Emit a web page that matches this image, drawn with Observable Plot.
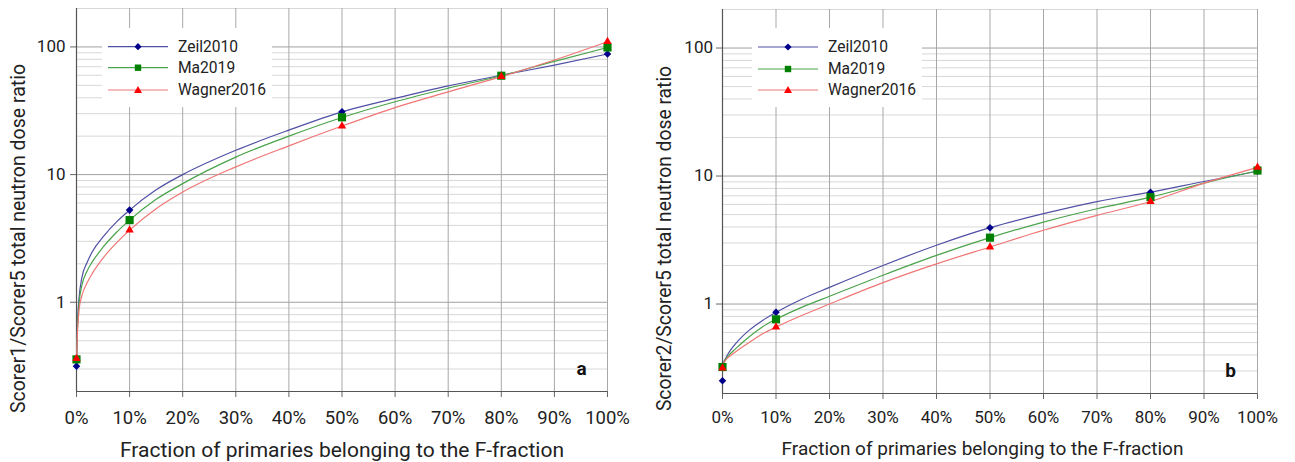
<!DOCTYPE html>
<html><head><meta charset="utf-8">
<script src="https://cdn.jsdelivr.net/npm/d3@7"></script>
<script src="https://cdn.jsdelivr.net/npm/@observablehq/plot@0.6"></script>
<style>
html,body{margin:0;padding:0;background:#fff;}
#wrap{position:relative;width:1295px;height:462px;overflow:hidden;font-family:Roboto,sans-serif;}
.panel{position:absolute;top:0;}
.legend{position:absolute;background:#fff;}
</style></head><body><div id="wrap"></div>
<script>
// ---- data ----
const seriesNames = ["Zeil2010", "Ma2019", "Wagner2016"];
const xTicks = [0, 10, 20, 30, 40, 50, 60, 70, 80, 90, 100];
const majorY = [1, 10, 100];
const minorY = [0.3, 0.4, 0.5, 0.6, 0.7, 0.8, 0.9, 2, 3, 4, 5, 6, 7, 8, 9, 20, 30, 40, 50, 60, 70, 80, 90, 200];

// simulated points (markers)
const markerX = [0, 10, 50, 80, 100];
const aZeil = [0.316, 5.27, 31.1, 60, 88];
const aMa = [0.357, 4.40, 28.1, 59.5, 99];
const aWagner = [0.362, 3.67, 24.0, 58.5, 110];
const bZeil = [0.252, 0.861, 3.95, 7.48, 10.9];
const bMa = [0.322, 0.76, 3.30, 6.84, 11.04];
const bWagner = [0.316, 0.66, 2.79, 6.32, 11.7];

// fitted curves
const fitX = [0, 0.2, 0.5, 1, 2, 3, 5, 7.5, 10, 15, 20, 30, 40, 50, 60, 70, 80, 90, 100];
const aFitZeil = [0.32, 0.7, 1.1, 1.55, 2.05, 2.5, 3.25, 4.24, 5.27, 7.6, 10.0, 15.5, 22.3, 31.0, 39.5, 49.5, 60, 72, 88];
const aFitMa = [0.36, 0.65, 1.0, 1.35, 1.76, 2.08, 2.7, 3.52, 4.4, 6.4, 8.5, 13.7, 20.0, 28.0, 37.2, 47.5, 59.5, 77, 99];
const aFitWagner = [0.36, 0.6, 0.88, 1.12, 1.42, 1.69, 2.22, 2.91, 3.67, 5.4, 7.3, 11.5, 16.8, 24.0, 33.5, 44.5, 58.5, 79, 110];
const bFitZeil = [0.32, 0.35, 0.37, 0.405, 0.465, 0.52, 0.625, 0.745, 0.86, 1.1, 1.35, 2.0, 2.88, 3.95, 5.08, 6.32, 7.48, 9.06, 10.9];
const bFitMa = [0.32, 0.345, 0.365, 0.39, 0.43, 0.47, 0.555, 0.665, 0.76, 0.95, 1.15, 1.68, 2.40, 3.30, 4.37, 5.55, 6.84, 8.8, 11.0];
const bFitWagner = [0.32, 0.345, 0.36, 0.38, 0.41, 0.44, 0.50, 0.585, 0.66, 0.82, 1.0, 1.47, 2.06, 2.79, 3.77, 4.93, 6.32, 8.8, 11.7];

const xTitle = "Fraction of primaries belonging to the F-fraction";
const yTitleA = "Scorer1/Scorer5 total neutron dose ratio";
const yTitleB = "Scorer2/Scorer5 total neutron dose ratio";

// ---- styles ----
const lineColors = ["#5050a5", "#4aa34a", "#f07676"];
const markColors = ["#00008b", "#008000", "#ff0000"];
const markSymbols = ["diamond2", "square", "triangle"];
const markR = [3.4, 4.6, 3.1];

function rows(xs, arrs) {
  const out = [];
  arrs.forEach((arr, s) => xs.forEach((x, i) => out.push({x, y: arr[i], s})));
  return out;
}

function panel(o) {
  const fitRows = rows(fitX, o.fits);
  const ptRows = rows(markerX, o.pts);
  const marks = [
    Plot.ruleY(minorY, {stroke: "#d8d8d8", strokeWidth: 1}),
    Plot.ruleY(majorY, {stroke: "#a0a0a0", strokeWidth: 1}),
    Plot.ruleX(xTicks, {stroke: "#a8a8a8", strokeWidth: 1}),
    Plot.axisX({ticks: xTicks, tickFormat: d => d + "%", tickSize: 6, tickPadding: o.xPad, fontSize: o.fsX, label: null, stroke: "#666", fill: "#222"}),
    Plot.axisY({ticks: majorY, tickFormat: d => String(d), tickSize: 6, tickPadding: o.yPad, fontSize: o.fsY, label: null, stroke: "#666", fill: "#222"}),
    Plot.ruleX([0], {stroke: "#555", strokeWidth: 1.2}),
    Plot.ruleY([0.2], {stroke: "#555", strokeWidth: 1.2})
  ];
  [0, 1, 2].forEach(s => {
    marks.push(Plot.line(fitRows.filter(d => d.s === s), {x: "x", y: "y", stroke: lineColors[s], strokeWidth: 1.2, curve: "monotone-x"}));
  });
  [0, 1, 2].forEach(s => {
    marks.push(Plot.dot(ptRows.filter(d => d.s === s), {x: "x", y: "y", symbol: markSymbols[s], r: markR[s], fill: markColors[s], stroke: "none"}));
  });
  marks.push(Plot.text([o.xTitle], {text: d => d, frameAnchor: "bottom", textAnchor: "middle", lineAnchor: "middle", dx: o.xtDx, dy: o.xtDy, fontSize: o.fsXT, fill: "#222"}));
  marks.push(Plot.text([o.yTitle], {text: d => d, frameAnchor: "left", textAnchor: "middle", lineAnchor: "middle", dx: o.ytDx, dy: o.ytDy, rotate: -90, fontSize: o.fsYT, fill: "#222"}));
  marks.push(Plot.text([o.letter], {text: d => d, frameAnchor: "bottom-right", textAnchor: "middle", lineAnchor: "middle", dx: o.lDx, dy: o.lDy, fontSize: 19, fontWeight: "bold", fill: "#111"}));
  return Plot.plot({
    width: o.width, height: 462,
    marginLeft: o.ml, marginRight: o.mr, marginTop: o.mt, marginBottom: o.mb,
    style: {fontFamily: "Roboto, sans-serif", background: "white", color: "#222"},
    x: {domain: [0, 100]},
    y: {type: "log", domain: [0.2, 200]},
    marks
  });
}

function legend(left, top, rowsY) {
  const div = document.createElement("div");
  div.className = "legend";
  div.style.left = left + "px"; div.style.top = top + "px";
  div.style.width = "170px"; div.style.height = "79px";
  let svg = `<svg width="170" height="79" xmlns="http://www.w3.org/2000/svg" style="font-family:Roboto,sans-serif">`;
  seriesNames.forEach((name, i) => {
    const y = rowsY[i];
    svg += `<line x1="6" x2="66" y1="${y}" y2="${y}" stroke="${lineColors[i]}" stroke-width="1.2"/>`;
    if (i === 0) svg += `<polygon points="36,${y-3.6} 39.6,${y} 36,${y+3.6} 32.4,${y}" fill="${markColors[0]}"/>`;
    if (i === 1) svg += `<rect x="32.8" y="${y-3.2}" width="6.4" height="6.4" fill="${markColors[1]}"/>`;
    if (i === 2) svg += `<polygon points="36,${y-4} 40,${y+3} 32,${y+3}" fill="${markColors[2]}"/>`;
    svg += `<text x="76" y="${y}" dy="0.35em" font-size="15.6" fill="#222">${name}</text>`;
  });
  svg += `</svg>`;
  div.innerHTML = svg;
  return div;
}

const wrap = document.getElementById("wrap");

const pa = panel({
  width: 647, ml: 76, mr: 40, mt: 8, mb: 71,
  fits: [aFitZeil, aFitMa, aFitWagner], pts: [aZeil, aMa, aWagner],
  xTitle, yTitle: yTitleA, letter: "a",
  fsX: 18.5, fsY: 17, xPad: 13, yPad: 5,
  fsXT: 21, xtDx: 0, xtDy: 59,
  fsYT: 19.5, ytDx: -58, ytDy: 38.5,
  lDx: -26, lDy: -23
});
const da = document.createElement("div"); da.className = "panel"; da.style.left = "0px"; da.appendChild(pa);
wrap.appendChild(da);

const pb = panel({
  width: 648, ml: 75, mr: 38, mt: 9, mb: 69,
  fits: [bFitZeil, bFitMa, bFitWagner], pts: [bZeil, bMa, bWagner],
  xTitle, yTitle: yTitleB, letter: "b",
  fsX: 17, fsY: 17, xPad: 11, yPad: 3.5,
  fsXT: 19, xtDx: -7.5, xtDy: 55,
  fsYT: 19.3, ytDx: -57.5, ytDy: 37,
  lDx: -27, lDy: -23
});
const db = document.createElement("div"); db.className = "panel"; db.style.left = "647px"; db.appendChild(pb);
wrap.appendChild(db);

wrap.appendChild(legend(102, 28, [18.7, 39.7, 62]));
wrap.appendChild(legend(752, 28, [19, 41, 62]));
</script></body></html>
